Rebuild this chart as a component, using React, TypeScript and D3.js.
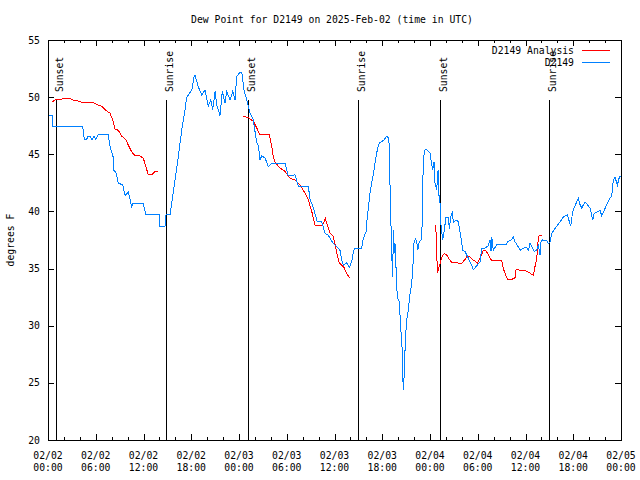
import React from "react";
import * as d3 from "d3";

// hours since 2025-02-02 00:00 UTC
const obsHours = [0.04,0.59,0.63,4.36,4.56,4.86,5.03,5.28,5.53,5.78,6.03,6.28,7.58,7.79,8.17,8.29,8.54,8.83,9.39,9.68,10.09,10.52,10.68,11.94,12.31,13.99,14.07,14.70,14.83,15.33,15.54,15.96,16.37,16.80,17.22,17.43,18.06,18.35,18.47,18.89,19.31,19.73,20.14,20.45,20.70,20.99,21.20,21.61,21.90,22.24,22.46,22.87,23.21,23.50,23.71,24.13,24.34,24.63,24.88,24.97,25.38,25.80,26.01,26.23,26.43,26.64,26.85,27.27,27.68,28.11,29.78,30.20,31.04,31.45,32.71,32.92,33.34,33.84,34.39,34.81,35.22,35.85,36.69,36.91,37.11,37.54,37.86,38.16,38.37,38.58,39.42,39.62,39.96,40.12,40.46,40.88,41.09,41.38,41.63,41.93,42.22,42.47,42.69,42.85,43.06,43.19,43.32,43.39,43.52,43.60,43.89,44.14,44.32,44.48,44.57,44.65,44.77,44.90,45.08,45.28,45.49,45.70,45.83,45.99,46.16,46.33,46.46,46.66,46.96,47.03,47.16,47.37,47.59,48.00,48.34,48.51,48.63,48.84,49.01,49.13,49.26,49.32,49.39,49.60,49.80,50.01,50.30,50.43,50.60,50.81,50.93,51.27,51.56,51.77,51.98,52.11,52.40,52.82,53.24,53.44,53.95,54.29,54.50,54.91,55.33,55.54,55.67,55.75,55.96,56.38,57.64,57.72,58.27,58.47,58.68,59.10,59.31,60.07,60.36,60.57,61.11,61.41,61.61,61.83,61.95,62.16,62.67,62.87,63.08,63.30,63.71,64.25,64.75,65.26,65.68,65.93,66.44,66.64,66.85,67.07,67.48,68.11,68.45,68.61,69.37,69.58,70.21,70.62,70.84,71.04,71.25,71.54,71.79,71.96];
const obsValues = [48.4,48.4,47.4,47.4,46.3,46.3,46.6,46.6,46.3,46.6,46.3,46.7,46.7,45.7,44.8,43.6,43.4,42.5,42.3,41.4,41.7,40.4,40.7,40.7,39.7,39.7,38.7,38.7,39.7,39.7,40.7,42.75,44.8,47.1,48.9,50.0,50.6,51.8,51.9,50.9,50.2,50.6,49.2,49.75,48.9,50.5,49.3,48.4,50.5,49.5,50.5,49.75,50.5,49.75,51.8,52.2,52.2,50.6,50.0,49.75,48.6,48.0,47.0,46.0,45.8,44.5,44.85,44.7,43.9,44.2,44.2,43.1,43.2,42.2,42.2,41.1,40.3,39.1,39.1,38.1,37.9,37.2,36.6,35.75,35.3,35.5,35.1,35.6,36.5,36.8,36.8,37.65,38.2,39.5,41.6,43.3,44.2,45.4,46.0,46.1,46.25,46.5,46.6,46.0,39.9,36.2,34.3,38.4,36.4,37.2,32.5,32.1,29.9,28.2,25.7,24.4,25.8,28.75,30.5,31.4,32.8,33.7,34.9,37.2,37.6,37.35,36.6,37.35,37.6,39.5,44.65,45.4,45.4,45.1,43.6,44.35,42.5,41.9,43.6,41.4,40.7,39.8,38.7,37.5,38.4,39.5,39.5,38.5,39.5,40.0,39.0,39.25,39.1,38.2,37.35,36.6,36.5,35.9,35.3,34.9,35.3,35.6,36.8,36.8,37.0,37.5,36.5,37.8,36.6,37.1,37.15,37.35,37.55,37.8,37.35,36.9,36.6,36.9,36.6,37.2,36.5,36.6,37.0,36.2,37.35,37.5,37.45,37.2,37.35,38.1,38.5,39.0,39.5,39.7,38.7,40.0,40.85,41.15,40.6,40.3,40.85,40.3,39.25,39.8,40.1,39.6,40.6,41.15,41.4,42.75,43.0,42.3,43.0,43.1];

const anaHours1 = [0.46,0.88,1.51,2.14,2.76,3.18,3.81,4.44,5.69,6.32,6.75,7.16,7.79,8.13,8.42,8.83,9.26,9.80,10.09,10.52,10.93,11.56,11.98,12.31,12.60,13.03,13.45,13.86];
const anaValues1 = [49.55,49.75,49.8,49.9,49.9,49.75,49.65,49.5,49.5,49.3,49.2,48.9,48.6,48.0,47.2,47.1,46.6,46.25,45.8,45.2,44.9,44.85,44.65,43.9,43.2,43.2,43.5,43.5];
const anaHours2 = [24.54,25.17,25.80,26.23,26.64,27.81,28.11,28.31,28.53,29.15,29.78,30.41,31.04,31.67,32.30,32.71,33.14,33.55,34.52,34.85,35.10,35.44,35.85,36.07,36.35,36.60,36.91,37.20,37.45,37.86];
const anaValues2 = [48.35,48.2,47.9,47.3,46.7,46.7,45.7,44.8,44.3,43.8,43.5,42.9,42.75,42.3,41.6,41.0,40.0,38.8,38.8,39.4,38.8,38.1,37.8,37.1,36.2,35.5,35.3,35.1,34.7,34.2];
const anaHours3 = [48.72,48.84,48.92,49.17,49.47,49.76,50.10,50.43,50.81,51.36,51.98,52.40,52.69,53.03,53.44,53.95,54.29,54.70,55.04,55.33,55.75,56.38,57.01,57.22,57.56,57.85,58.27,58.68,58.81,59.52,60.07,60.57,60.99,61.20,61.41,61.61,61.74,62.04];
const anaValues3 = [38.8,36.9,34.6,35.2,36.0,36.3,36.2,35.8,35.5,35.5,35.45,35.8,36.1,36.0,35.75,35.5,35.9,36.6,36.55,36.2,35.7,35.7,35.75,35.0,34.3,34.0,34.05,34.2,34.9,34.85,34.8,34.6,34.4,35.2,35.9,37.65,37.9,37.9];

const sunHours = [1.0, 14.83, 25.13, 38.95, 49.26, 62.95];
const sunLabels = ["Sunset", "Sunrise", "Sunset", "Sunrise", "Sunset", "Sunrise"];

const xMajorHours = [0, 6, 12, 18, 24, 30, 36, 42, 48, 54, 60, 66, 72];
const xTickDates = ["02/02","02/02","02/02","02/02","02/03","02/03","02/03","02/03","02/04","02/04","02/04","02/04","02/05"];
const xTickTimes = ["00:00","06:00","12:00","18:00","00:00","06:00","12:00","18:00","00:00","06:00","12:00","18:00","00:00"];
const yTicks = [20, 25, 30, 35, 40, 45, 50, 55];

const title = "Dew Point for D2149 on 2025-Feb-02 (time in UTC)";
const yLabel = "degrees F";
const legendNames = ["D2149 Analysis", "D2149"];

const RED = "#ff0000";
const BLUE = "#0080ff";
const FONT = "'DejaVu Sans Mono', 'Liberation Mono', monospace";
const FS = 9.75;

export default function App() {
  const L = 48, R = 621, T = 40, B = 440;
  const x = d3.scaleLinear().domain([0, 72]).range([L, R]);
  const y = d3.scaleLinear().domain([20, 55]).range([B, T]);
  const line = d3.line<[number, number]>().x((d) => x(d[0])).y((d) => y(d[1]));
  const zip = (a: number[], b: number[]) => a.map((h, i) => [h, b[i]] as [number, number]);
  const obs = zip(obsHours, obsValues);
  const ana = [zip(anaHours1, anaValues1), zip(anaHours2, anaValues2), zip(anaHours3, anaValues3)];
  const minorHours = d3.range(0, 73, 2).filter((h) => h % 6 !== 0);
  const px = (v: number) => Math.round(v) + 0.5;

  return (
    <svg width={640} height={480} style={{ position: "absolute", left: 0, top: 0, background: "#fff" }} fontFamily={FONT} fontSize={FS}>
      <rect x={0} y={0} width={640} height={480} fill="#fff" />
      <text x={332} y={23} textAnchor="middle">{title}</text>
      {/* y ticks */}
      {yTicks.map((t) => (
        <g key={"y" + t}>
          <line x1={L} x2={L + 6} y1={px(y(t))} y2={px(y(t))} stroke="#000" shapeRendering="crispEdges" />
          <line x1={R - 6} x2={R} y1={px(y(t))} y2={px(y(t))} stroke="#000" shapeRendering="crispEdges" />
          <text x={40} y={y(t) + 3.5} textAnchor="end">{t}</text>
        </g>
      ))}
      {/* x ticks */}
      {minorHours.map((h) => (
        <g key={"m" + h}>
          <line x1={px(x(h))} x2={px(x(h))} y1={B} y2={B - 3} stroke="#000" shapeRendering="crispEdges" />
          <line x1={px(x(h))} x2={px(x(h))} y1={T} y2={T + 3} stroke="#000" shapeRendering="crispEdges" />
        </g>
      ))}
      {xMajorHours.map((h, i) => (
        <g key={"M" + h}>
          <line x1={px(x(h))} x2={px(x(h))} y1={B} y2={B - 6} stroke="#000" shapeRendering="crispEdges" />
          <line x1={px(x(h))} x2={px(x(h))} y1={T} y2={T + 6} stroke="#000" shapeRendering="crispEdges" />
          <text x={x(h)} y={459} textAnchor="middle">{xTickDates[i]}</text>
          <text x={x(h)} y={471} textAnchor="middle">{xTickTimes[i]}</text>
        </g>
      ))}
      <text transform={`translate(14,${(T + B) / 2}) rotate(-90)`} textAnchor="middle">{yLabel}</text>
      {/* sun lines */}
      {sunHours.map((h, i) => (
        <g key={"s" + i}>
          <line x1={px(x(h))} x2={px(x(h))} y1={100} y2={B} stroke="#000" shapeRendering="crispEdges" />
          <text transform={`translate(${px(x(h)) + 6},92) rotate(-90)`} textAnchor="start">{sunLabels[i]}</text>
        </g>
      ))}
      {/* data */}
      {ana.map((seg, i) => (
        <path key={"a" + i} d={line(seg) || ""} fill="none" stroke={RED} strokeWidth={1} shapeRendering="crispEdges" />
      ))}
      <path d={line(obs) || ""} fill="none" stroke={BLUE} strokeWidth={1} shapeRendering="crispEdges" />
      {/* frame */}
      <rect x={L + 0.5} y={T + 0.5} width={R - L} height={B - T} fill="none" stroke="#000" shapeRendering="crispEdges" />
      {/* legend */}
      <text x={574} y={53.5} textAnchor="end">{legendNames[0]}</text>
      <line x1={582} x2={610} y1={50.5} y2={50.5} stroke={RED} shapeRendering="crispEdges" />
      <text x={574} y={65.5} textAnchor="end">{legendNames[1]}</text>
      <line x1={582} x2={610} y1={62.5} y2={62.5} stroke={BLUE} shapeRendering="crispEdges" />
    </svg>
  );
}
